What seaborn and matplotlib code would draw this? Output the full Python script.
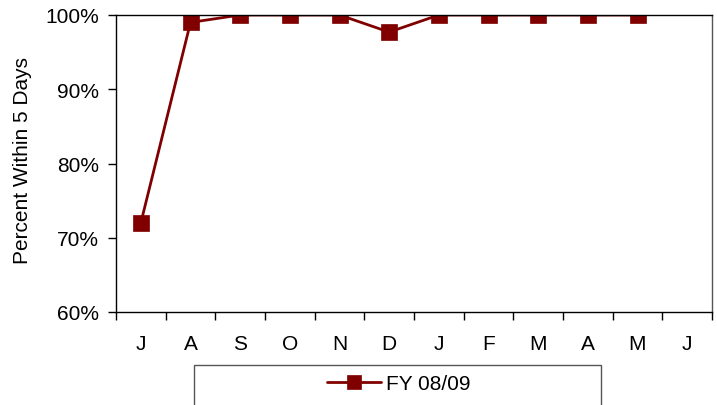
import numpy as np
import pandas as pd
import matplotlib
matplotlib.use("Agg")
import matplotlib.pyplot as plt
import seaborn as sns
from matplotlib.patches import Rectangle
from matplotlib.ticker import FixedLocator, PercentFormatter

months = ["J", "A", "S", "O", "N", "D", "J", "F", "M", "A", "M", "J"]
values = [72.0, 99.0, 100.0, 100.0, 100.0, 97.7, 100.0, 100.0, 100.0, 100.0, 100.0, np.nan]
series_name = "FY 08/09"
y_ticks = [60, 70, 80, 90, 100]

sns.set_style("white")
plt.rcParams["font.family"] = ["Liberation Sans", "DejaVu Sans"]
plt.rcParams["text.color"] = "black"
plt.rcParams["axes.labelcolor"] = "black"
plt.rcParams["xtick.color"] = "black"
plt.rcParams["ytick.color"] = "black"

df = pd.DataFrame({"pos": np.arange(len(months)), "value": values, "series": series_name})

fig = plt.figure(figsize=(7.17, 4.06), dpi=100)
ax = fig.add_axes([116/717, 1 - 313/406, (712 - 116)/717, (313 - 16)/406])

color = "#800000"
sns.lineplot(data=df, x="pos", y="value", ax=ax, color=color, marker="s",
             markersize=11.5, linewidth=2.0, markeredgecolor=color, markeredgewidth=0.5,
             label=series_name, legend=False)

ax.set_xlim(-0.5, len(months) - 0.5)
ax.set_ylim(60, 100)
ax.set_yticks(y_ticks)
ax.yaxis.set_major_formatter(PercentFormatter(decimals=0))
ax.set_xticks(np.arange(len(months)))
ax.set_xticklabels(months)
ax.xaxis.set_minor_locator(FixedLocator(np.arange(-0.5, len(months), 1.0)))
ax.tick_params(axis="x", which="major", length=0, pad=16, labelsize=15)
ax.tick_params(axis="x", which="minor", length=6, width=1, color="black", direction="out", bottom=True)
ax.tick_params(axis="y", which="major", length=6, width=1, color="black", direction="out", left=True, labelsize=15, pad=6)
ax.set_xlabel("")
ax.set_ylabel("Percent Within 5 Days", fontsize=15, va="center")
ax.yaxis.set_label_coords((23 - 116) / 596, (313 - 160) / 297)
for s in ax.spines.values():
    s.set_visible(True)
    s.set_color("black")
    s.set_linewidth(1)
ax.spines["right"].set_color("#555555")

# legend frame (extends past figure bottom)
rect = Rectangle((194/717, -0.05), (601 - 194)/717, 1 - 366/406 + 0.05,
                 transform=fig.transFigure, fill=False, edgecolor="#555555", linewidth=1)
fig.patches.append(rect)
handles, labels = ax.get_legend_handles_labels()
fig.legend(handles, labels, loc="center", bbox_to_anchor=(399/717, 1 - 385/406),
           frameon=False, fontsize=15, handlelength=2.6, handletextpad=0.25,
           markerscale=0.9)

fig.savefig("out.png", dpi=100)
